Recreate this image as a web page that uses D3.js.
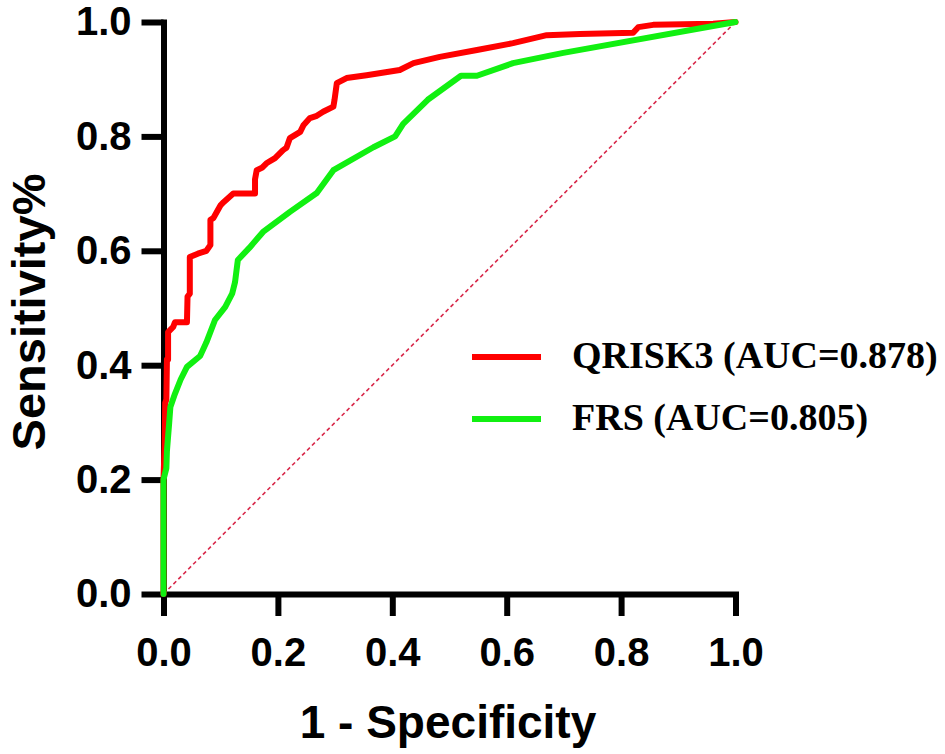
<!DOCTYPE html>
<html>
<head>
<meta charset="utf-8">
<script src="https://cdn.jsdelivr.net/npm/d3@7"></script>
<style>
    body { margin: 0; background: #fff; }
    svg { display: block; }
</style>
</head>
<body>
<div id="chart"></div>
<script>
// ROC curves as [1 - specificity, sensitivity]
const qrisk3Points = [
    [0, 0], [0, 0.2], [0.002, 0.26], [0.003, 0.334], [0.005, 0.34], [0.006, 0.41],
    [0.008, 0.41], [0.008, 0.458], [0.017, 0.467], [0.02, 0.475], [0.041, 0.475],
    [0.042, 0.52], [0.046, 0.525], [0.046, 0.589], [0.06, 0.595], [0.075, 0.6],
    [0.082, 0.61], [0.082, 0.654], [0.087, 0.657], [0.1, 0.68], [0.105, 0.685],
    [0.122, 0.7], [0.16, 0.7], [0.16, 0.725], [0.163, 0.741], [0.172, 0.745],
    [0.18, 0.753], [0.195, 0.762], [0.209, 0.776], [0.215, 0.78], [0.221, 0.797],
    [0.239, 0.808], [0.245, 0.82], [0.256, 0.832], [0.268, 0.836], [0.279, 0.843],
    [0.297, 0.852], [0.299, 0.864], [0.303, 0.893], [0.32, 0.902], [0.355, 0.907],
    [0.413, 0.916], [0.437, 0.928], [0.483, 0.939], [0.548, 0.951], [0.611, 0.963],
    [0.67, 0.977], [0.728, 0.979], [0.821, 0.981], [0.83, 0.991], [0.856, 0.995],
    [0.961, 0.997], [1, 1]
];

const frsPoints = [
    [0, 0], [0, 0.2], [0.005, 0.22], [0.006, 0.25], [0.01, 0.3], [0.012, 0.327],
    [0.02, 0.35], [0.03, 0.375], [0.041, 0.397], [0.064, 0.416], [0.075, 0.44],
    [0.09, 0.479], [0.108, 0.502], [0.12, 0.525], [0.125, 0.545], [0.13, 0.584],
    [0.15, 0.605], [0.174, 0.633], [0.221, 0.668], [0.268, 0.701], [0.297, 0.741],
    [0.367, 0.781], [0.405, 0.8], [0.419, 0.822], [0.462, 0.864], [0.52, 0.906],
    [0.548, 0.906], [0.611, 0.928], [0.699, 0.946], [1, 1]
];

const referenceLine = [[0, 0], [1, 1]];
const tickValues = [0, 0.2, 0.4, 0.6, 0.8, 1.0];

const seriesNames = ['QRISK3 (AUC=0.878)', 'FRS (AUC=0.805)'];
const seriesColors = ['#ff0000', '#11f011'];

const width = 945;
const height = 754;
const margin = { top: 22, right: 209.5, bottom: 160, left: 163.5 };

const svg = d3.select('#chart')
    .append('svg')
    .attr('width', width)
    .attr('height', height);

const x = d3.scaleLinear().domain([0, 1]).range([margin.left, width - margin.right]);
const y = d3.scaleLinear().domain([0, 1]).range([height - margin.bottom, margin.top]);

const sans = '"Liberation Sans", Arial, sans-serif';
const serif = '"Liberation Serif", "Times New Roman", serif';

// Axes first, the curves are drawn over them
const xAxis = svg.append('g')
    .attr('transform', `translate(0,${y(0)})`)
    .call(d3.axisBottom(x).tickValues(tickValues).tickFormat(d3.format('.1f'))
        .tickSize(22).tickSizeOuter(0).tickPadding(22));

const yAxis = svg.append('g')
    .attr('transform', `translate(${x(0)},0)`)
    .call(d3.axisLeft(y).tickValues(tickValues).tickFormat(d3.format('.1f'))
        .tickSize(22).tickSizeOuter(0).tickPadding(10));

[xAxis, yAxis].forEach(g => {
    g.select('.domain').attr('stroke', '#000').attr('stroke-width', 6).attr('stroke-linecap', 'square');
    g.selectAll('.tick line').attr('stroke', '#000').attr('stroke-width', 6);
    g.selectAll('.tick text')
        .attr('fill', '#000')
        .style('font-family', sans)
        .style('font-weight', 'bold')
        .style('font-size', '40px');
});

// Chance line
const line = d3.line().x(d => x(d[0])).y(d => y(d[1]));

svg.append('path')
    .datum(referenceLine)
    .attr('d', line)
    .attr('fill', 'none')
    .attr('stroke', '#d8284a')
    .attr('stroke-width', 1.6)
    .attr('stroke-dasharray', '4,3');

// Curves (QRISK3 first, FRS on top along the axis as in the figure)
[[qrisk3Points, seriesColors[0]], [frsPoints, seriesColors[1]]].forEach(([pts, color]) => {
    svg.append('path')
        .datum(pts)
        .attr('d', line)
        .attr('fill', 'none')
        .attr('stroke', color)
        .attr('stroke-width', 6)
        .attr('stroke-linejoin', 'round')
        .attr('stroke-linecap', 'round');
});

// Axis titles
svg.append('text')
    .attr('x', 448)
    .attr('y', 738)
    .attr('text-anchor', 'middle')
    .style('font-family', sans)
    .style('font-weight', 'bold')
    .style('font-size', '46px')
    .text('1 - Specificity');

svg.append('text')
    .attr('transform', 'translate(45,312) rotate(-90)')
    .attr('text-anchor', 'middle')
    .style('font-family', sans)
    .style('font-weight', 'bold')
    .style('font-size', '47px')
    .text('Sensitivity%');

// Legend
const legend = svg.append('g').attr('transform', 'translate(472,357)');

seriesNames.forEach((name, i) => {
    const row = legend.append('g').attr('transform', `translate(0,${i * 62})`);
    row.append('line')
        .attr('x1', 0).attr('x2', 69)
        .attr('stroke', seriesColors[i])
        .attr('stroke-width', 6);
    row.append('text')
        .attr('x', 100)
        .attr('y', 11)
        .style('font-family', serif)
        .style('font-weight', 'bold')
        .style('font-size', '38px')
        .text(name);
});
</script>
</body>
</html>
